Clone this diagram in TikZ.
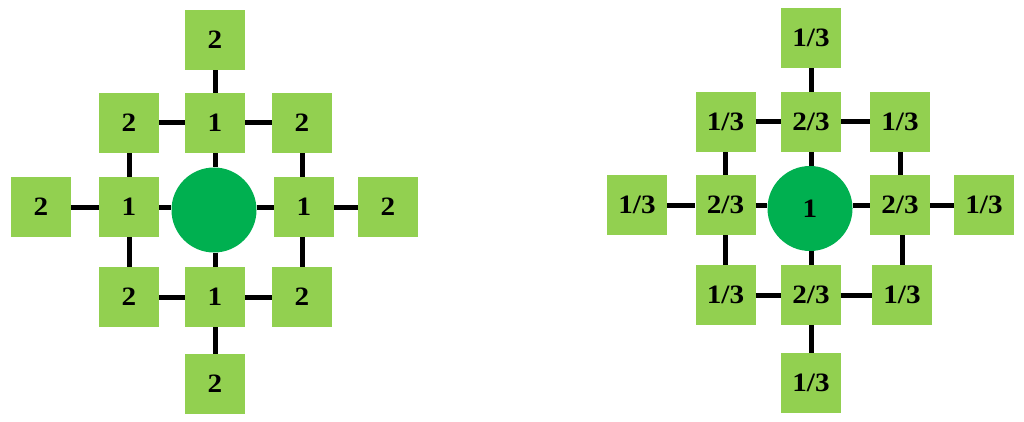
\documentclass[tikz,border=0pt]{standalone}
\usepackage{fontspec}
\usepackage{graphicx}
\setmainfont{Liberation Serif}
\definecolor{lgreen}{HTML}{92D050}
\definecolor{dgreen}{HTML}{00B050}
\newcommand{\wlab}[1]{\scalebox{1.1}[1]{#1}}
\begin{document}
\begin{tikzpicture}[x=1pt,y=-1pt,
  sq/.style={fill=lgreen,draw=none,minimum width=60pt,minimum height=60pt,inner sep=0pt,font=\fontsize{26.5}{26.5}\selectfont\bfseries},
  ctr/.style={circle,fill=dgreen,draw=none,minimum size=85pt,inner sep=0pt,font=\fontsize{26.5}{26.5}\selectfont\bfseries},
  link/.style={line width=5pt,black}]
\useasboundingbox (0,0) rectangle (1024,422);
% left grid
\node[sq] (at) at (215,40) {\wlab{2}};
\node[sq] (a21) at (129,123) {\wlab{2}};
\node[sq] (a22) at (215,123) {\wlab{1}};
\node[sq] (a23) at (302,123) {\wlab{2}};
\node[sq] (a31) at (41,207) {\wlab{2}};
\node[sq] (a32) at (129,207) {\wlab{1}};
\node[ctr] (ac) at (214,210) {};
\node[sq] (a34) at (304,207) {\wlab{1}};
\node[sq] (a35) at (388,207) {\wlab{2}};
\node[sq] (a41) at (129,297) {\wlab{2}};
\node[sq] (a42) at (215,297) {\wlab{1}};
\node[sq] (a43) at (302,297) {\wlab{2}};
\node[sq] (ab) at (215,384) {\wlab{2}};
% right grid
\node[sq] (bt) at (811,38) {\wlab{1/3}};
\node[sq] (b21) at (725.5,122) {\wlab{1/3}};
\node[sq] (b22) at (811,122) {\wlab{2/3}};
\node[sq] (b23) at (900,122) {\wlab{1/3}};
\node[sq] (b31) at (637,205) {\wlab{1/3}};
\node[sq] (b32) at (725.5,205) {\wlab{2/3}};
\node[ctr] (bc) at (810,208.5) {\wlab{1}};
\node[sq] (b34) at (900,205) {\wlab{2/3}};
\node[sq] (b35) at (984,205) {\wlab{1/3}};
\node[sq] (b41) at (725.5,295) {\wlab{1/3}};
\node[sq] (b42) at (811,295) {\wlab{2/3}};
\node[sq] (b43) at (902,295) {\wlab{1/3}};
\node[sq] (bb) at (811,383) {\wlab{1/3}};
% connectors
\draw[link] (at) -- (a22);
\draw[link] (a21) -- (a22);
\draw[link] (a22) -- (a23);
\draw[link] (a21) -- (a32);
\draw[link] (a22.south) -- (a22.south |- ac.north);
\draw[link] (a23) -- (a23 |- a34.north);
\draw[link] (a31) -- (a32);
\draw[link] (a32.east) -- (ac.west |- a32.east);
\draw[link] (ac.east |- a34.west) -- (a34.west);
\draw[link] (a34) -- (a35);
\draw[link] (a32) -- (a41);
\draw[link] (ac.south -| a42.north) -- (a42.north);
\draw[link] (a43 |- a34.south) -- (a43);
\draw[link] (a41) -- (a42);
\draw[link] (a42) -- (a43);
\draw[link] (a42) -- (ab);
\draw[link] (bt) -- (b22);
\draw[link] (b21) -- (b22);
\draw[link] (b22) -- (b23);
\draw[link] (b21) -- (b32);
\draw[link] (b22.south) -- (b22.south |- bc.north);
\draw[link] (b23) -- (b34);
\draw[link] (b31) -- (b32);
\draw[link] (b32.east) -- (bc.west |- b32.east);
\draw[link] (bc.east |- b34.west) -- (b34.west);
\draw[link] (b34) -- (b35);
\draw[link] (b32) -- (b41);
\draw[link] (bc.south -| b42.north) -- (b42.north);
\draw[link] (b43 |- b34.south) -- (b43);
\draw[link] (b41) -- (b42);
\draw[link] (b42) -- (b43);
\draw[link] (b42) -- (bb);
\end{tikzpicture}
\end{document}
